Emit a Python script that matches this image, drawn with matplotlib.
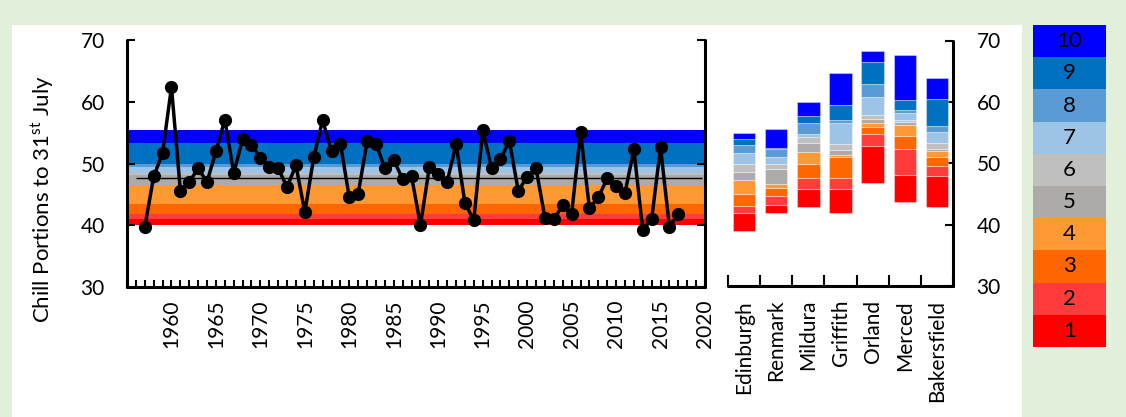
import numpy as np
import matplotlib
matplotlib.use("Agg")
import matplotlib.pyplot as plt
from matplotlib.patches import Rectangle
from matplotlib.ticker import FixedLocator, MultipleLocator, NullFormatter

plt.rcParams['font.family'] = ['Lato', 'DejaVu Sans']
plt.rcParams['mathtext.fontset'] = 'custom'
plt.rcParams['mathtext.rm'] = 'Lato'

# chill portions accumulated to 31 July, one value per winter
years = list(range(1957, 2018))
chill = [39.7, 47.9, 51.7, 62.4, 45.6, 47.0, 49.2, 47.0, 52.0, 57.1,
         48.4, 54.0, 53.0, 50.9, 49.4, 49.2, 46.2, 49.7, 42.1, 51.0,
         57.0, 52.0, 53.2, 44.5, 45.1, 53.6, 53.2, 49.2, 50.5, 47.5,
         47.9, 40.0, 49.4, 48.3, 47.0, 53.2, 43.6, 40.8, 55.4, 49.2,
         50.7, 53.6, 45.6, 47.8, 49.2, 41.2, 41.0, 43.2, 41.8, 55.1,
         42.8, 44.5, 47.6, 46.3, 45.2, 52.3, 39.2, 41.0, 52.6, 39.7,
         41.9]
mean_chill = 47.6

# decile class edges behind the time series (class 1 at the bottom)
band_edges = [40.0, 41.0, 41.8, 43.5, 46.5, 48.1, 48.45, 49.45, 49.85, 53.4, 55.5]

# decile class edges for each site
sites = ["Edinburgh", "Renmark", "Mildura", "Griffith", "Orland", "Merced", "Bakersfield"]
edinburgh = [39.0, 41.9, 43.1, 45.0, 47.3, 48.6, 49.95, 51.6, 52.95, 53.9, 55.0]
renmark = [41.9, 43.2, 44.7, 46.0, 46.55, 49.1, 49.95, 51.05, 52.25, 52.5, 55.5]
mildura = [42.9, 45.8, 47.65, 49.85, 51.85, 53.3, 54.2, 54.75, 56.55, 57.65, 60.0]
griffith = [41.9, 45.8, 47.65, 51.05, 51.3, 52.1, 53.2, 56.6, 57.1, 59.5, 64.7]
orland = [46.8, 52.85, 54.7, 55.95, 56.5, 57.25, 57.85, 60.8, 62.95, 66.55, 68.35]
merced = [43.65, 48.1, 52.35, 54.5, 56.25, 56.65, 57.1, 58.25, 58.7, 60.25, 67.6]
bakersfield = [42.9, 47.85, 49.5, 51.05, 52.0, 52.4, 53.3, 55.05, 56.05, 60.5, 63.9]
site_edges = [edinburgh, renmark, mildura, griffith, orland, merced, bakersfield]

class_labels = ["1", "2", "3", "4", "5", "6", "7", "8", "9", "10"]
class_colours = ["#FF0000", "#FF3B3B", "#FF6600", "#FF9933", "#AEAAAA",
                 "#BFBFBF", "#9DC3E6", "#5B9BD5", "#0070C0", "#0000FF"]

W, H = 1126, 417
fig = plt.figure(figsize=(W / 100, H / 100), dpi=100, facecolor="#E2EFDA")
fig.add_artist(Rectangle((12 / W, 0), 1010 / W, 1 - 25 / H, transform=fig.transFigure,
                         facecolor="white", edgecolor="none", zorder=0))

spine_w = 2.2
tick_size = 15

# time series panel
ax1 = fig.add_axes([127 / W, 1 - 287 / H, 578 / W, 247 / H])
ax1.set_facecolor("none")
for k in range(10):
    ax1.axhspan(band_edges[k], band_edges[k + 1], color=class_colours[k], lw=0, zorder=1)
ax1.hlines(mean_chill, 1956, 2019.7, color="black", lw=1, zorder=2)
ax1.plot(years, chill, color="black", lw=2.5, marker="o", ms=8.5, zorder=3, clip_on=False)
ax1.set_xlim(1955, 2020)
ax1.set_ylim(30, 70)
ax1.xaxis.set_major_locator(FixedLocator(list(range(1960, 2021, 5))))
ax1.xaxis.set_minor_locator(MultipleLocator(1))
ax1.yaxis.set_major_locator(MultipleLocator(10))
ax1.tick_params(axis="both", which="both", direction="in", width=1.5, colors="black",
                labelsize=tick_size)
ax1.tick_params(axis="x", which="both", length=5, labelrotation=90, pad=9)
ax1.tick_params(axis="y", length=6, right=True, labelright=False, pad=16)
ax1.spines["top"].set_visible(False)
for s in ["left", "right", "bottom"]:
    ax1.spines[s].set_linewidth(spine_w)
    ax1.spines[s].set_capstyle("round")

fig.text(43 / W, 1 - 199 / H, "Chill Portions to 31$^{\\mathrm{st}}$ July", rotation=90,
         ha="center", va="center", fontsize=16)

# site comparison panel
ax2 = fig.add_axes([728 / W, 1 - 286 / H, 225 / W, 245.5 / H])
ax2.set_facecolor("none")
for j, edges in enumerate(site_edges):
    for k in range(10):
        ax2.bar(j, edges[k + 1] - edges[k], bottom=edges[k], width=0.7,
                color=class_colours[k], edgecolor=(1, 1, 1, 0.35), lw=0.8, zorder=2)
ax2.set_xlim(-0.5, len(sites) - 0.5)
ax2.set_ylim(30, 70)
ax2.xaxis.set_major_locator(FixedLocator([j - 0.5 for j in range(len(sites) + 1)]))
ax2.xaxis.set_major_formatter(NullFormatter())
ax2.xaxis.set_minor_locator(FixedLocator(list(range(len(sites)))))
ax2.set_xticklabels(sites, minor=True)
ax2.yaxis.set_major_locator(MultipleLocator(10))
ax2.yaxis.tick_right()
ax2.tick_params(axis="both", which="both", direction="in", width=1.5, colors="black",
                labelsize=tick_size)
ax2.tick_params(axis="x", which="major", length=8)
ax2.tick_params(axis="x", which="minor", length=0, labelrotation=90, pad=10)
ax2.tick_params(axis="y", length=6, pad=17)
ax2.spines["top"].set_visible(False)
ax2.spines["left"].set_visible(False)
for s in ["right", "bottom"]:
    ax2.spines[s].set_linewidth(spine_w)
    ax2.spines[s].set_capstyle("round")

# class key
ax3 = fig.add_axes([1033 / W, 1 - 347 / H, 73 / W, 322 / H])
for k in range(10):
    ax3.bar(0.5, 1, bottom=k, width=1, color=class_colours[k], lw=0)
    ax3.text(0.5, k + 0.5, class_labels[k], ha="center", va="center", fontsize=16)
ax3.set_xlim(0, 1)
ax3.set_ylim(0, 10)
ax3.axis("off")

fig.savefig("out.png", dpi=100, facecolor=fig.get_facecolor())
